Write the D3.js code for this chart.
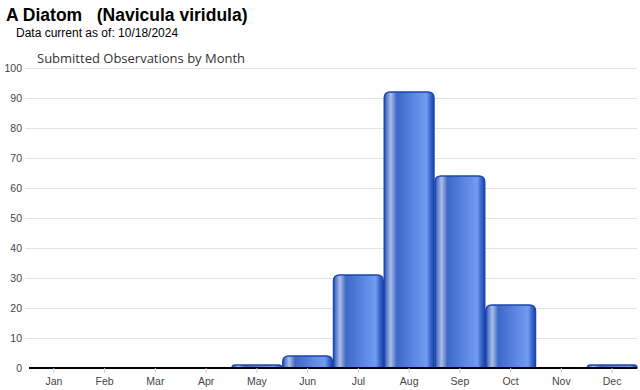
<!DOCTYPE html>
<html>
<head>
<meta charset="utf-8">
<script src="https://cdn.jsdelivr.net/npm/d3@7"></script>
<style>
  body { margin: 0; background: #fff; }
  svg { display: block; }
</style>
</head>
<body>
<script>
// chart data
var months = ['Jan', 'Feb', 'Mar', 'Apr', 'May', 'Jun', 'Jul', 'Aug', 'Sep', 'Oct', 'Nov', 'Dec'];
var counts = [0, 0, 0, 0, 1, 4, 31, 92, 64, 21, 0, 1];
var yTicks = [0, 10, 20, 30, 40, 50, 60, 70, 80, 90, 100];
var titleText = 'A Diatom   (Navicula viridula)';
var dateText = 'Data current as of: 10/18/2024';
var subtitleText = 'Submitted Observations by Month';

var width = 640, height = 390;
var margin = { top: 68, right: 3, bottom: 22, left: 29 };

var svg = d3.select('body').append('svg')
    .attr('width', width)
    .attr('height', height);

// titles
svg.append('text')
    .attr('x', 6).attr('y', 21)
    .attr('font-family', 'Liberation Sans, Arial, sans-serif')
    .attr('font-size', 17.5).attr('font-weight', 'bold')
    .attr('fill', '#000')
    .style('white-space', 'pre')
    .text(titleText);

svg.append('text')
    .attr('x', 16).attr('y', 37)
    .attr('font-family', 'Liberation Sans, Arial, sans-serif')
    .attr('font-size', 12)
    .attr('fill', '#000')
    .text(dateText);

svg.append('text')
    .attr('x', 37).attr('y', 63)
    .attr('font-family', 'Open Sans, sans-serif')
    .attr('font-size', 13)
    .attr('fill', '#333')
    .text(subtitleText);

// gradient for the bars
var defs = svg.append('defs');
var grad = defs.append('linearGradient')
    .attr('id', 'barGrad')
    .attr('x1', '0%').attr('x2', '100%')
    .attr('y1', '0%').attr('y2', '0%');
[
    ['0%', '#1f4fb8'],
    ['5%', '#5b80cf'],
    ['13%', '#a9bde6'],
    ['18%', '#7f9bd8'],
    ['25%', '#3e68c8'],
    ['55%', '#5882de'],
    ['85%', '#729cf0'],
    ['92%', '#3f6bd0'],
    ['100%', '#1a45b0']
].forEach(function (s) {
    grad.append('stop').attr('offset', s[0]).attr('stop-color', s[1]);
});

var g = svg.append('g')
    .attr('transform', 'translate(' + margin.left + ',' + margin.top + ')');

var innerW = width - margin.left - margin.right;
var innerH = height - margin.top - margin.bottom;

var x = d3.scaleBand()
    .domain(months)
    .range([0, innerW])
    .paddingInner(0.02)
    .paddingOuter(0);

var y = d3.scaleLinear()
    .domain([0, 100])
    .range([innerH, 0]);

// gridlines
g.append('g')
    .selectAll('line')
    .data(yTicks.filter(function (d) { return d > 0; }))
    .enter().append('line')
    .attr('x1', -4).attr('x2', innerW)
    .attr('y1', function (d) { return y(d) + 0.5; })
    .attr('y2', function (d) { return y(d) + 0.5; })
    .attr('stroke', '#e3e3e3')
    .attr('stroke-width', 1);

// y axis labels
var yAxis = g.append('g')
    .call(d3.axisLeft(y).tickValues(yTicks).tickSize(0).tickPadding(7));
yAxis.select('.domain').remove();
yAxis.selectAll('text')
    .attr('font-family', 'Liberation Sans, Arial, sans-serif')
    .attr('font-size', 10.5)
    .attr('fill', '#444');

// bars
function barPath(d) {
    var x0 = x(d.month), w = x.bandwidth();
    var h = innerH - y(d.value);
    var r = Math.min(6, h, w / 2);
    var top = y(d.value);
    return 'M' + x0 + ',' + innerH +
        'L' + x0 + ',' + (top + r) +
        'Q' + x0 + ',' + top + ' ' + (x0 + r) + ',' + top +
        'L' + (x0 + w - r) + ',' + top +
        'Q' + (x0 + w) + ',' + top + ' ' + (x0 + w) + ',' + (top + r) +
        'L' + (x0 + w) + ',' + innerH + 'Z';
}

var data = months.map(function (m, i) { return { month: m, value: counts[i] }; });

g.append('g')
    .selectAll('path')
    .data(data.filter(function (d) { return d.value > 0; }))
    .enter().append('path')
    .attr('d', barPath)
    .attr('fill', 'url(#barGrad)')
    .attr('stroke', '#1c48a8')
    .attr('stroke-width', 1.5);

// x axis
var xAxis = g.append('g')
    .attr('transform', 'translate(0,' + innerH + ')')
    .call(d3.axisBottom(x).tickSize(5).tickPadding(5));
xAxis.select('.domain')
    .attr('stroke', '#000')
    .attr('stroke-width', 2)
    .attr('d', 'M0,0H' + innerW);
xAxis.selectAll('.tick line')
    .attr('stroke', '#ccc');
xAxis.selectAll('text')
    .attr('font-family', 'Liberation Sans, Arial, sans-serif')
    .attr('font-size', 10.5)
    .attr('fill', '#444');
</script>
</body>
</html>
